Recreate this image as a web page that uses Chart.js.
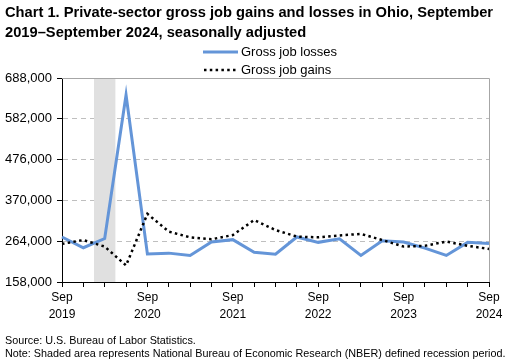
<!DOCTYPE html>
<html>
<head>
<meta charset="utf-8">
<script src="https://cdn.jsdelivr.net/npm/chart.js@4/dist/chart.umd.min.js"></script>
<style>
  html, body { margin:0; padding:0; background:#fff; }
  #wrap { position:relative; width:512px; height:364px; overflow:hidden; font-family:"Liberation Sans", Arial, sans-serif; }
  #c { position:absolute; left:0; top:0; }
  .title { position:absolute; left:5px; top:3px; font-weight:bold; font-size:14.7px; line-height:19.5px; color:#000; white-space:nowrap; }
  .legend { position:absolute; left:203px; top:43px; font-size:13px; color:#000; }
  .legend .row { position:relative; height:17.5px; line-height:17px; white-space:nowrap; }
  .legend svg { position:absolute; left:0; top:0; }
  .legend span { position:absolute; left:38px; top:0; }
  .note { position:absolute; left:5px; font-size:10.8px; color:#000; white-space:nowrap; }
</style>
</head>
<body>
<div id="wrap">
  <canvas id="c" width="512" height="364"></canvas>
  <div class="title">Chart 1. Private-sector gross job gains and losses in Ohio, September<br>2019–September 2024, seasonally adjusted</div>
  <div class="legend">
    <div class="row"><svg width="36" height="17"><line x1="0" y1="9" x2="35" y2="9" stroke="#6495d8" stroke-width="3"/></svg><span>Gross job losses</span></div>
    <div class="row"><svg width="36" height="17"><line x1="1" y1="9" x2="35" y2="9" stroke="#000" stroke-width="2.5" stroke-dasharray="2.5 3.3"/></svg><span>Gross job gains</span></div>
  </div>
  <div class="note" style="top:334px">Source: U.S. Bureau of Labor Statistics.</div>
  <div class="note" style="top:347px">Note: Shaded area represents National Bureau of Economic Research (NBER) defined recession period.</div>
</div>
<script>
const quarters = ['Sep 2019','Dec 2019','Mar 2020','Jun 2020','Sep 2020','Dec 2020','Mar 2021','Jun 2021',
  'Sep 2021','Dec 2021','Mar 2022','Jun 2022','Sep 2022','Dec 2022','Mar 2023','Jun 2023',
  'Sep 2023','Dec 2023','Mar 2024','Jun 2024','Sep 2024'];
const grossJobLosses = [275000,247000,271000,644000,231000,233000,227000,262000,268000,235000,230000,
  275000,261000,270000,227000,265000,262000,246000,227000,261000,258000];
const grossJobGains = [257000,267000,250000,201000,335000,289000,274000,269000,280000,319000,293000,
  276000,274000,279000,283000,267000,250000,252000,263000,252000,244000];
const yTicks = [158000,264000,370000,476000,582000,688000];
const recessionQuarter = 'Mar 2020';

const shadePlugin = {
  id: 'shade',
  beforeDatasetsDraw(chart) {
    const {ctx, chartArea, scales:{x}} = chart;
    const i = quarters.indexOf(recessionQuarter);
    const x0 = x.getPixelForValue(i - 0.5), x1 = x.getPixelForValue(i + 0.5);
    ctx.save();
    ctx.fillStyle = '#e0e0e0';
    ctx.fillRect(x0, chartArea.top, x1 - x0, chartArea.bottom - chartArea.top);
    ctx.restore();
  },
  afterDraw(chart) {
    const {ctx, chartArea} = chart;
    ctx.save();
    ctx.strokeStyle = '#a6a6a6';
    ctx.lineWidth = 1;
    ctx.beginPath();
    ctx.moveTo(chartArea.left, Math.round(chartArea.top) + 0.5);
    ctx.lineTo(Math.round(chartArea.right) + 0.5, Math.round(chartArea.top) + 0.5);
    ctx.lineTo(Math.round(chartArea.right) + 0.5, chartArea.bottom);
    ctx.stroke();
    ctx.restore();
  }
};

new Chart(document.getElementById('c'), {
  type: 'line',
  data: {
    labels: quarters,
    datasets: [
      { label: 'Gross job gains', data: grossJobGains, borderColor: '#000', borderWidth: 2.5,
        borderDash: [2.5, 3.3], pointRadius: 0, tension: 0, fill: false, order: 0 },
      { label: 'Gross job losses', data: grossJobLosses, borderColor: '#6495d8', borderWidth: 3,
        pointRadius: 0, tension: 0, fill: false, order: 1 }
    ]
  },
  options: {
    responsive: false,
    animation: false,
    events: [],
    layout: { padding: { left: 0, right: 23, top: 78, bottom: 0 } },
    plugins: { legend: { display: false }, tooltip: { enabled: false } },
    scales: {
      x: {
        offset: false,
        grid: { drawOnChartArea: false, drawTicks: true, tickLength: 5, color: '#000' },
        border: { display: true, color: '#000', width: 1 },
        ticks: {
          autoSkip: false, maxRotation: 0, minRotation: 0, color: '#000', padding: 3,
          font: { family: '"Liberation Sans", Arial, sans-serif', size: 12, lineHeight: 1.35 },
          callback: function(v, i) { return i % 4 === 0 ? quarters[i].split(' ') : ''; }
        },
        afterFit(s) { s.height = 82; }
      },
      y: {
        min: 158000, max: 688000,
        afterBuildTicks(s) { s.ticks = yTicks.map(v => ({ value: v })); },
        grid: {
          drawTicks: true, tickLength: 5,
          color: ctx => (ctx.tick && (ctx.tick.value === 688000 || ctx.tick.value === 158000)) ? 'rgba(0,0,0,0)' : '#bfbfbf',
          tickColor: '#000'
        },
        border: { display: true, color: '#000', width: 1, dash: [5, 4] },
        ticks: {
          color: '#000', padding: 5,
          font: { family: '"Liberation Sans", Arial, sans-serif', size: 13 },
          callback: v => v.toLocaleString('en-US')
        },
        afterFit(s) { s.width = 62; }
      }
    }
  },
  plugins: [shadePlugin]
});
</script>
</body>
</html>
